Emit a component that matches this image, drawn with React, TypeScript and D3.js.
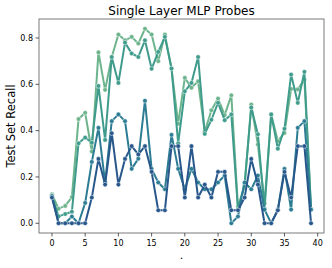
import React from 'react';
import * as d3 from 'd3';

// recall per position, one array per probe
const xs: number[] = d3.range(40);

const seriesA: number[] = [0.125, 0.063, 0.075, 0.113, 0.45, 0.477, 0.31, 0.738, 0.576, 0.718, 0.815, 0.79, 0.805, 0.776, 0.84, 0.815, 0.70, 0.815, 0.668, 0.43, 0.628, 0.585, 0.613, 0.395, 0.488, 0.539, 0.467, 0.553, 0.07, 0.16, 0.513, 0.34, 0.086, 0.47, 0.355, 0.39, 0.58, 0.578, 0.62, 0.06];
const seriesB: number[] = [0.118, 0.03, 0.04, 0.05, 0.345, 0.37, 0.348, 0.593, 0.36, 0.718, 0.606, 0.78, 0.733, 0.718, 0.79, 0.667, 0.74, 0.805, 0.668, 0.345, 0.57, 0.606, 0.718, 0.386, 0.447, 0.52, 0.445, 0.47, 0.06, 0.17, 0.5, 0.384, 0.063, 0.47, 0.322, 0.408, 0.642, 0.52, 0.654, 0.06];
const seriesC: number[] = [0.118, 0, 0, 0.029, 0, 0.088, 0.265, 0.412, 0.176, 0.441, 0.47, 0.441, 0.235, 0.279, 0.529, 0.235, 0.176, 0.147, 0.382, 0.235, 0.147, 0.235, 0.176, 0.147, 0.147, 0.176, 0.206, 0, 0.029, 0.176, 0.147, 0.206, 0.059, 0, 0.059, 0.235, 0.059, 0.412, 0.441, 0.059];
const seriesD: number[] = [0.111, 0, 0, 0, 0, 0, 0.111, 0.278, 0.167, 0.389, 0.167, 0.278, 0.333, 0.297, 0.333, 0.222, 0.056, 0.056, 0.333, 0.333, 0.111, 0.333, 0.111, 0.167, 0.111, 0.222, 0.222, 0.056, 0.056, 0.111, 0.278, 0.167, 0, 0, 0.056, 0.222, 0.111, 0.333, 0.333, 0];

const xTicks = [0, 5, 10, 15, 20, 25, 30, 35, 40];
const yTicks = [0, 0.2, 0.4, 0.6, 0.8];

const colors = ['#6db48d', '#3f9b8c', '#2c7c93', '#27578b'];

const W = 332;
const H = 268;
const margin = { top: 19, right: 8, bottom: 35, left: 39 };

const App: React.FC = () => {
  const innerW = W - margin.left - margin.right;
  const innerH = H - margin.top - margin.bottom;

  const x = d3.scaleLinear().domain([-1.95, 40.95]).range([0, innerW]);
  const y = d3.scaleLinear().domain([-0.042, 0.882]).range([innerH, 0]);

  const line = d3.line<number>()
    .x((_, i) => x(xs[i]))
    .y(d => y(d));

  const all = [seriesA, seriesB, seriesC, seriesD];
  const font = 'DejaVu Sans, sans-serif';

  return (
    <svg width={W} height={H} style={{ position: 'absolute', left: 0, top: 0 }}>
      <rect width={W} height={H} fill="#fff" />
      <text x={margin.left + innerW / 2} y={15} textAnchor="middle" fontFamily={font} fontSize={12} fill="#000">
        Single Layer MLP Probes
      </text>
      <g transform={`translate(${margin.left},${margin.top})`}>
        {all.map((s, k) => (
          <g key={k}>
            <path d={line(s) ?? ''} fill="none" stroke={colors[k]} strokeWidth={2} strokeLinejoin="round" />
            {s.map((v, i) => (
              <circle key={i} cx={x(xs[i])} cy={y(v)} r={2.3} fill={colors[k]} stroke="#fff" strokeWidth={0.5} />
            ))}
          </g>
        ))}
        <rect x={0} y={0} width={innerW} height={innerH} fill="none" stroke="#7a7a7a" strokeWidth={1} />
        {xTicks.map(t => (
          <g key={t} transform={`translate(${x(t)},${innerH})`}>
            <line y2={3.5} stroke="#333" strokeWidth={0.8} />
            <text y={13} textAnchor="middle" fontFamily={font} fontSize={8} fill="#000">{t}</text>
          </g>
        ))}
        {yTicks.map(t => (
          <g key={t} transform={`translate(0,${y(t)})`}>
            <line x2={-3.5} stroke="#333" strokeWidth={0.8} />
            <text x={-6} dy="0.32em" textAnchor="end" fontFamily={font} fontSize={8} fill="#000">{t.toFixed(1)}</text>
          </g>
        ))}
      </g>
      <text transform={`translate(15,${margin.top + innerH / 2}) rotate(-90)`} textAnchor="middle" fontFamily={font} fontSize={11.5} fill="#000">
        Test Set Recall
      </text>
      <text x={margin.left + innerW / 2} y={259} textAnchor="middle" fontFamily={font} fontSize={11} fill="#000">.</text>
    </svg>
  );
};

export default App;
